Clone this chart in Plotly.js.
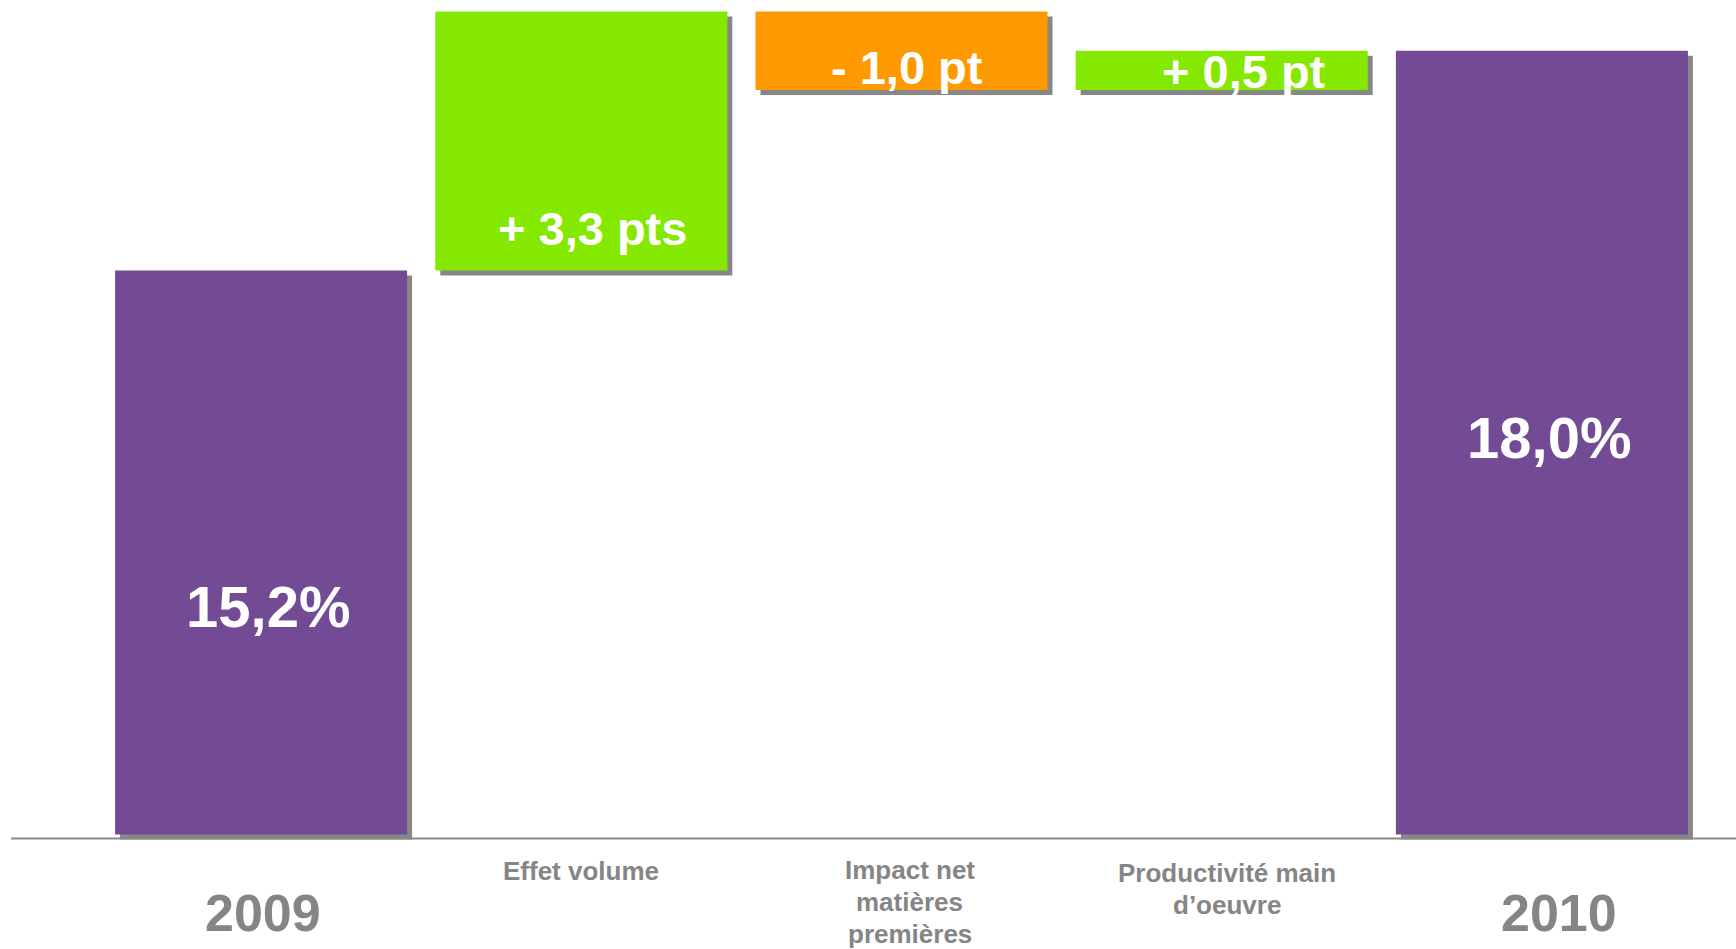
<!DOCTYPE html>
<html>
<head>
<meta charset="utf-8">
<script src="https://cdn.plot.ly/plotly-3.0.1.min.js"></script>
<style>html,body{margin:0;padding:0;background:#fff;}#chart{width:1736px;height:949px;}</style>
</head>
<body>
<div id="chart"></div>
<script>
// ---- Data ----
const categories = ['2009', 'Effet volume', 'Impact net matières premières', 'Productivité main d’oeuvre', '2010'];
const categoryLabels = ['2009', 'Effet volume', 'Impact net<br>matières<br>premières', 'Productivité main<br>d’oeuvre', '2010'];
const measures = ['absolute', 'relative', 'relative', 'relative', 'total'];
const values = [15.2, 3.3, -1.0, 0.5, 18.0];
const valueLabels = ['15,2%', '+ 3,3 pts', '- 1,0 pt', '+ 0,5 pt', '18,0%'];

// ---- Layout / style ----
const W = 1736, H = 949;
const margin = {l: 101, r: 34, t: 2, b: 105};
const yRange = [7.9, 18.62];
const yFloor = 8.02;              // truncated axis baseline of the original chart
const barWidth = 0.912;
const FONT = 'Liberation Sans, Arial, Helvetica, sans-serif';
const colPurple = '#724B94', colGreen = '#84E800', colOrange = '#FF9900', colShadow = '#878787', colGray = '#858585';

const plotH = H - margin.t - margin.b;
const plotW = W - margin.l - margin.r;
const pxPerUnitY = plotH / (yRange[1] - yRange[0]);
const pxPerCat = plotW / categories.length;
const shadowPx = 5;

// label placement (style): x shift in category units, y in axis units
const valueLabelPos = [
  {dx: 0.021, y: 10.93, size: 58},
  {dx: 0.036, y: 15.73, size: 47},
  {dx: 0.016, y: 17.78, size: 47},
  {dx: 0.071, y: 17.73, size: 47},
  {dx: 0.022, y: 13.07, size: 58}
];
// category label placement: x shift (category units), centre of first line (pixels), font size, line spacing (pixels)
const catLabelPos = [
  {dx: 0.007, py: 913, size: 52, lh: 0},
  {dx: 0.0, py: 871, size: 26, lh: 32},
  {dx: 0.025, py: 870, size: 26, lh: 32},
  {dx: 0.016, py: 873, size: 26, lh: 32},
  {dx: 0.053, py: 913, size: 52, lh: 0}
];

// ---- Waterfall computation ----
const bases = [], lens = [], colors = [];
let running = 0;
values.forEach((v, i) => {
  let lo, hi;
  if (measures[i] === 'absolute') { lo = yFloor; hi = v; running = v; colors.push(colPurple); }
  else if (measures[i] === 'total') { lo = yFloor; hi = running; colors.push(colPurple); }
  else { lo = Math.min(running, running + v); hi = Math.max(running, running + v); running += v; colors.push(v >= 0 ? colGreen : colOrange); }
  bases.push(lo); lens.push(hi - lo);
});

const dyShadow = shadowPx / pxPerUnitY;
const dxShadow = shadowPx / pxPerCat;

const shadow = {
  type: 'bar', x: categories, y: lens, base: bases.map(b => b - dyShadow),
  width: barWidth, offset: -barWidth / 2 + dxShadow,
  marker: {color: colShadow, line: {width: 0}}, hoverinfo: 'skip', showlegend: false
};
const bars = {
  type: 'bar', x: categories, y: lens, base: bases,
  width: barWidth, offset: -barWidth / 2,
  marker: {color: colors, line: {width: 0}}, hoverinfo: 'skip', showlegend: false
};

const annotations = [];
valueLabels.forEach((t, i) => {
  annotations.push({
    xref: 'x', yref: 'y', x: i + valueLabelPos[i].dx, y: valueLabelPos[i].y,
    text: '<b>' + t + '</b>', showarrow: false, xanchor: 'center', yanchor: 'middle',
    font: {family: FONT, size: valueLabelPos[i].size, color: '#ffffff'}
  });
});
categoryLabels.forEach((t, i) => {
  const p = catLabelPos[i];
  t.split('<br>').forEach((line, k) => {
    const py = p.py + k * p.lh;
    annotations.push({
      xref: 'x', yref: 'paper', x: i + p.dx, y: (plotH + margin.t - py) / plotH,
      text: '<b>' + line + '</b>', showarrow: false, xanchor: 'center', yanchor: 'middle', align: 'center',
      font: {family: FONT, size: p.size, color: colGray}
    });
  });
});

const layout = {
  width: W, height: H, margin: margin,
  paper_bgcolor: '#ffffff', plot_bgcolor: '#ffffff',
  barmode: 'overlay', showlegend: false,
  xaxis: {type: 'category', range: [-0.5, categories.length - 0.5], showticklabels: false, showgrid: false, zeroline: false, showline: false, ticks: ''},
  yaxis: {range: yRange, visible: false, showgrid: false, zeroline: false},
  shapes: [{
    type: 'line', layer: 'below', xref: 'paper', yref: 'y',
    x0: (11 - margin.l) / plotW, x1: (W - margin.l) / plotW,
    y0: yFloor - 4 / pxPerUnitY, y1: yFloor - 4 / pxPerUnitY,
    line: {color: '#8a8a8a', width: 2}
  }],
  annotations: annotations
};

Plotly.newPlot('chart', [shadow, bars], layout, {displayModeBar: false, staticPlot: true});
</script>
</body>
</html>
